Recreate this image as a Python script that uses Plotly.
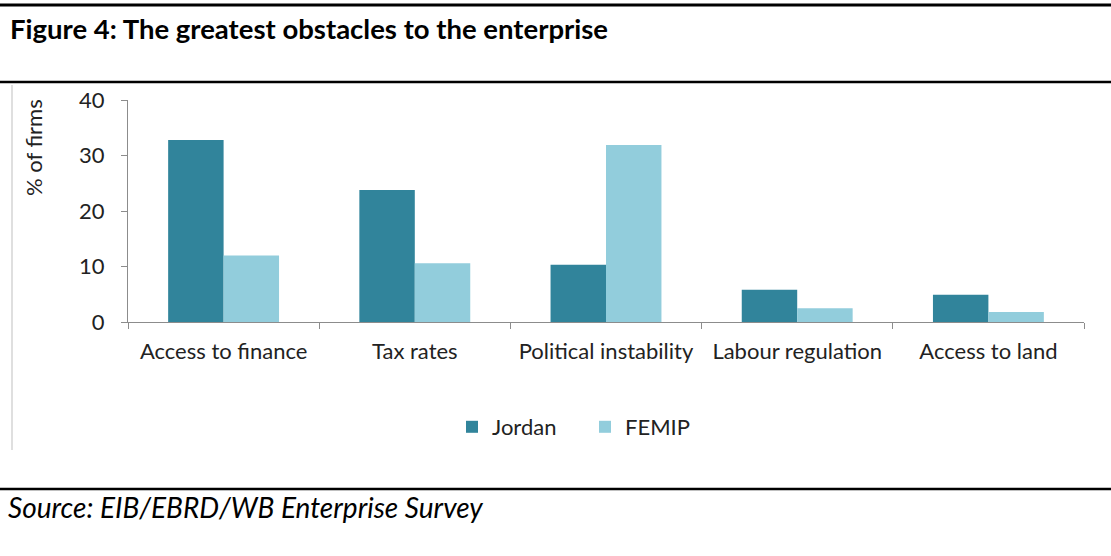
import plotly.graph_objects as go

categories = ["Access to finance", "Tax rates", "Political instability", "Labour regulation", "Access to land"]
jordan = [32.8, 23.8, 10.3, 5.8, 4.9]
femip = [12.0, 10.6, 31.9, 2.5, 1.8]
y_ticks = [0, 10, 20, 30, 40]

W, H = 1111, 556
L, R, T, B = 128, 1084, 100, 322


def px_x(x):
    return (x - L) / (R - L)


def px_y(y):
    return (B - y) / (B - T)


fig = go.Figure()
fig.add_bar(x=categories, y=jordan, name="Jordan", marker=dict(color="#31849B", line=dict(width=0)))
fig.add_bar(x=categories, y=femip, name="FEMIP", marker=dict(color="#92CDDC", line=dict(width=0)))

font_family = "Lato, 'Open Sans', sans-serif"
fig.update_layout(
    width=W, height=H,
    margin=dict(l=L, r=W - R, t=T, b=H - B),
    paper_bgcolor="white", plot_bgcolor="white",
    barmode="group", bargap=0.42, bargroupgap=0,
    font=dict(family=font_family, size=21, color="#222222"),
    showlegend=True,
    legend=dict(orientation="h", x=px_x(452), xanchor="left", xref="paper",
                y=px_y(427), yanchor="middle",
                font=dict(size=22, color="#222222"), itemwidth=30,
                entrywidth=88, entrywidthmode="pixels",
                traceorder="normal"),
)
fig.update_xaxes(
    type="category", showline=True, linecolor="#8c8c8c", linewidth=1,
    ticks="outside", tickson="boundaries", ticklen=6, tickcolor="#8c8c8c",
    tickfont=dict(size=22, color="#222222"), showgrid=False,
    ticklabelstandoff=10,
)
fig.update_yaxes(
    range=[0, 40], tickvals=y_ticks, showline=True, linecolor="#8c8c8c", linewidth=1,
    ticks="outside", ticklen=6, tickcolor="#8c8c8c", showgrid=False, zeroline=False,
    tickfont=dict(size=22, color="#222222"), ticklabelstandoff=12,
)

fig.add_annotation(x=px_x(33), y=px_y(148), xref="paper", yref="paper", text="% of firms",
                   showarrow=False, textangle=-90, font=dict(size=22, color="#222222"),
                   xanchor="center", yanchor="middle")

fig.add_annotation(x=px_x(8), y=px_y(28), xref="paper", yref="paper",
                   text="<b>Figure 4: The greatest obstacles to the enterprise</b>", showarrow=False,
                   xanchor="left", yanchor="middle", font=dict(size=27.5, color="#000000"))
fig.add_annotation(x=px_x(6), y=px_y(507), xref="paper", yref="paper",
                   text="<i>Source: EIB/EBRD/WB Enterprise Survey</i>", showarrow=False,
                   xanchor="left", yanchor="middle", font=dict(size=28, color="#000000"))

for yy, w in [(5, 3), (82, 2.5), (489, 2.5)]:
    fig.add_shape(type="line", xref="paper", yref="paper", x0=px_x(0), x1=px_x(W),
                  y0=px_y(yy), y1=px_y(yy), line=dict(color="black", width=w))
fig.add_shape(type="line", xref="paper", yref="paper", x0=px_x(12), x1=px_x(12),
              y0=px_y(85), y1=px_y(450), line=dict(color="#bfbfbf", width=1))

fig.write_html("out.html")
